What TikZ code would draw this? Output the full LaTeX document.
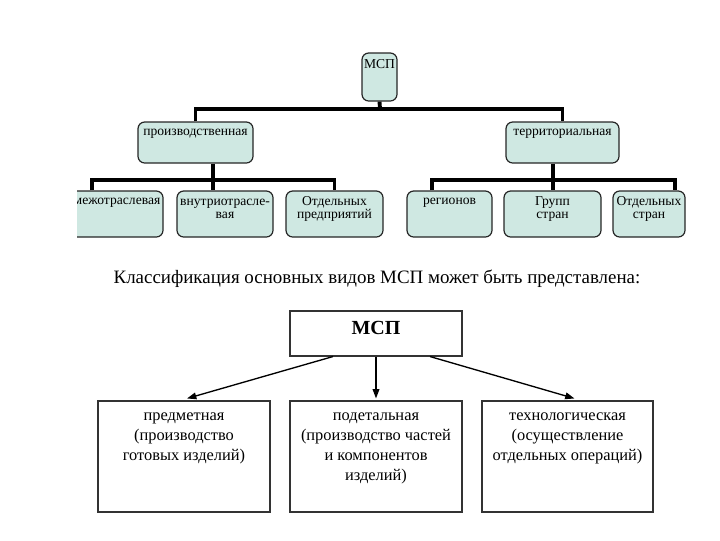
\documentclass[tikz,border=0pt]{standalone}
\usepackage{fontspec}
\setmainfont{Liberation Serif}
\usetikzlibrary{fit,calc,arrows.meta}
\definecolor{tealfill}{HTML}{CFE8E2}
\begin{document}
\begin{tikzpicture}[x=0.75pt,y=-0.75pt,
  tbox/.style={draw=black!85, line width=0.9pt, fill=tealfill, rounded corners=5pt, inner sep=0pt},
  ttext/.style={font=\fontsize{10.2}{10}\selectfont, align=center, inner sep=0pt},
  bus/.style={line width=2.9pt, black},
  wbox/.style={draw=black!80, line width=0.8pt, inner sep=0pt},
  wtext/.style={font=\fontsize{12.3}{15}\selectfont, align=center, inner sep=0pt},
  arr/.style={line width=1pt, -{Triangle[length=7pt,width=5pt]}}]
\useasboundingbox (0,0) rectangle (720,540);

\begin{scope}
\clip (77,0) rectangle (720,250);
% top level
\node[tbox, fit={(362,53) (397,101)}] (mcp) {};
\node[ttext] (tmcp) at (379.5,64) {МСП};
\node[tbox, fit={(138,122) (253,163)}] (prod) {};
\node[ttext] (tprod) at (195.5,134) {производственная};
\node[tbox, fit={(506,122) (619,163)}] (terr) {};
\node[ttext] (tterr) at (562.5,134) {территориальная};
% children left
\node[tbox, fit={(21,191) (163,237)}] (c1) {};
\node[ttext] (tc1) at (117,203) {межотраслевая};
\node[tbox, fit={(177,191) (273,237)}] (c2) {};
\node[ttext] (tc2) at (225,209) {внутриотрасле-\\вая};
\node[tbox, fit={(286,191) (383,237)}] (c3) {};
\node[ttext] (tc3) at (334.5,209) {Отдельных\\предприятий};
% children right
\node[tbox, fit={(407,191) (492,237)}] (r1) {};
\node[ttext] (tr1) at (449.5,203) {регионов};
\node[tbox, fit={(504,191) (601,237)}] (r2) {};
\node[ttext] (tr2) at (552.5,209) {Групп\\стран};
\node[tbox, fit={(613,191) (685,237)}] (r3) {};
\node[ttext] (tr3) at (649,209) {Отдельных\\стран};

% connectors
\coordinate (b0) at (380,109);
\draw[bus] (mcp.south) -- (b0);
\draw[bus] (prod.north) |- (b0) -| (terr.north);
\coordinate (pj) at (213,180);
\draw[bus] (prod.south -| pj) -- (pj);
\draw[bus] (c1.north) |- (pj) -| (c2.north -| pj);
\draw[bus] (pj) -| (c3.north);
\coordinate (tj) at (553,180);
\draw[bus] (terr.south -| tj) -- (tj);
\draw[bus] (r1.north -| 432,0) |- (tj) -| (r2.north -| tj);
\draw[bus] (tj) -| (r3.north -| 675,0);
\end{scope}

% caption
\node[font=\fontsize{14.2}{16}\selectfont, inner sep=0pt] (cap) at (377,279)
  {Классификация основных видов МСП может быть представлена:};

% bottom diagram
\node[wbox, fit={(290,311) (462,356)}] (mcp2) {};
\node[font=\bfseries\fontsize{15}{17}\selectfont, inner sep=0pt] (tmcp2) at (376,328) {МСП};
\node[wbox, fit={(98,401) (270,512)}] (b1) {};
\node[wtext] (tb1) at (184,438) {предметная\\(производство\\готовых изделий)};
\node[wbox, fit={(290,401) (462,512)}] (b2) {};
\node[wtext] (tb2) at (376,448) {подетальная\\(производство частей\\и компонентов\\изделий)};
\node[wbox, fit={(482,401) (653,512)}] (b3) {};
\node[wtext] (tb3) at (567.5,438) {технологическая\\(осуществление\\отдельных операций)};

\draw[arr] ($(mcp2.south)+(-43,0)$) -- ($(b1.north)+(3,-2)$);
\draw[arr] (mcp2.south -| b2.north) -- ($(b2.north)+(0,-2)$);
\draw[arr] ($(mcp2.south)+(54,0)$) -- ($(b3.north)+(7,-2)$);
\end{tikzpicture}
\end{document}
